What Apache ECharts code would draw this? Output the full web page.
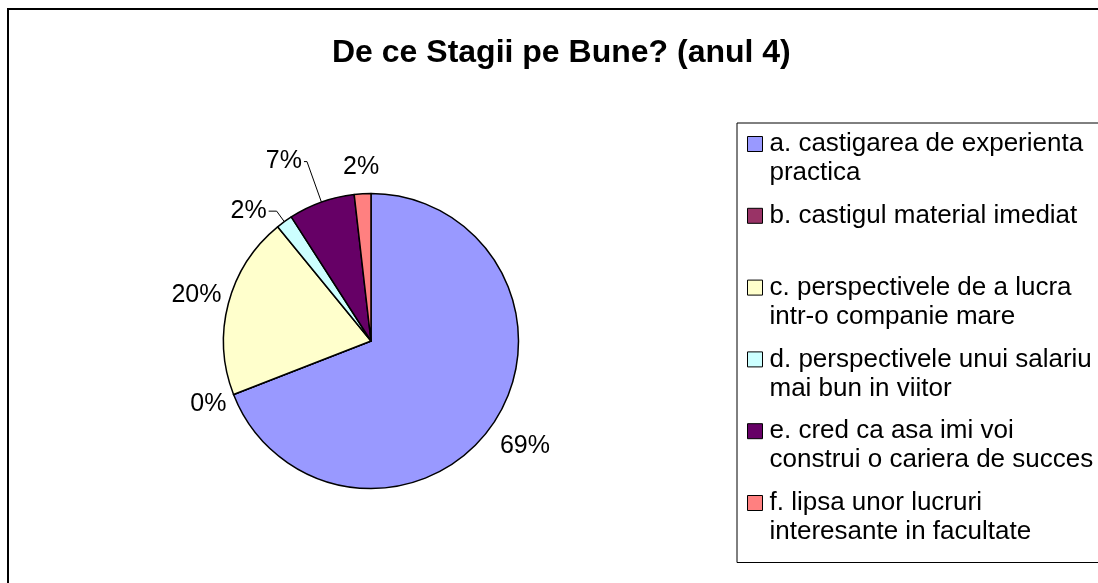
<!DOCTYPE html>
<html>
<head>
<meta charset="utf-8">
<script src="https://cdn.jsdelivr.net/npm/echarts@6/dist/echarts.min.js"></script>
<style>
    html, body { margin: 0; padding: 0; background: #fff; overflow: hidden; }
    #frame {
        position: absolute; left: 7px; top: 8px; width: 1200px; height: 700px;
        border: 2px solid #000; box-sizing: border-box;
    }
    #chart { position: absolute; left: 0; top: 0; width: 1098px; height: 583px; }
</style>
</head>
<body>
<div id="frame"></div>
<div id="chart"></div>
<script>
// answers (counts, 55 respondents) - percentages shown are rounded
const answers = [
    'a. castigarea de experienta practica',
    'b. castigul material imediat',
    'c. perspectivele de a lucra intr-o companie mare',
    'd. perspectivele unui salariu mai bun in viitor',
    'e. cred ca asa imi voi construi o cariera de succes',
    'f. lipsa unor lucruri interesante in facultate'
];
const legendLines = [
    'a. castigarea de experienta\npractica',
    'b. castigul material imediat\n ',
    'c. perspectivele de a lucra\nintr-o companie mare',
    'd. perspectivele unui salariu\nmai bun in viitor',
    'e. cred ca asa imi voi\nconstrui o cariera de succes',
    'f. lipsa unor lucruri\ninteresante in facultate'
];
const counts = [38, 0, 11, 1, 4, 1];
const colors = ['#9999FF', '#993366', '#FFFFCC', '#CCFFFF', '#660066', '#FF8080'];

// label placement (Excel style): leader lines only for d and e
const leader = [false, false, false, true, true, false];
const lineLen = [39, 27, 33, 13, 43, 27];
const lineLen2 = [0, 0, 0, 8, 3, 0];

const font = 'Liberation Sans, Arial, sans-serif';

// legend marker: square on the first text line (empty point below only stretches the box)
const legendIcon = 'path://M0,0L15,0L15,15L0,15Z M0,44L0,44';

const myChart = echarts.init(document.getElementById('chart'));

const option = {
    animation: false,
    title: {
        text: 'De ce Stagii pe Bune? (anul 4)',
        left: 332,
        top: 37,
        padding: 0,
        textStyle: {
            fontFamily: font,
            fontSize: 32,
            fontWeight: 'bold',
            color: '#000'
        }
    },
    legend: {
        orient: 'vertical',
        left: 737,
        top: 123,
        padding: [6.5, 120, 16, 10],
        borderColor: '#000',
        borderWidth: 1,
        itemWidth: 15,
        itemHeight: 44,
        itemGap: 13.8,
        icon: legendIcon,
        selectedMode: false,
        itemStyle: {
            borderColor: '#000',
            borderWidth: 1
        },
        formatter: (name) => legendLines[answers.indexOf(name)],
        textStyle: {
            fontFamily: font,
            fontSize: 26,
            lineHeight: 29,
            color: '#000',
            padding: [0, 0, 0, 2]
        },
        data: answers
    },
    series: [
        {
            type: 'pie',
            center: [371, 341],
            radius: 147.5,
            startAngle: 90,
            clockwise: true,
            avoidLabelOverlap: false,
            silent: true,
            itemStyle: {
                borderColor: '#000',
                borderWidth: 1.5
            },
            label: {
                show: true,
                position: 'outside',
                fontFamily: font,
                fontSize: 25,
                color: '#000',
                distanceToLabelLine: 2,
                formatter: (p) => Math.round(p.percent) + '%'
            },
            labelLayout: (params) => {
                if (leader[params.dataIndex] || !params.labelLinePoints) return;
                const p = params.labelLinePoints[1];
                return { x: p[0], y: p[1], align: 'center', verticalAlign: 'middle' };
            },
            data: counts.map((value, i) => ({
                name: answers[i],
                value: value,
                itemStyle: { color: colors[i] },
                labelLine: {
                    show: true,
                    length: lineLen[i],
                    length2: lineLen2[i],
                    smooth: false,
                    lineStyle: {
                        color: '#000',
                        width: 1,
                        opacity: leader[i] ? 1 : 0
                    }
                }
            }))
        }
    ]
};

myChart.setOption(option);
</script>
</body>
</html>
